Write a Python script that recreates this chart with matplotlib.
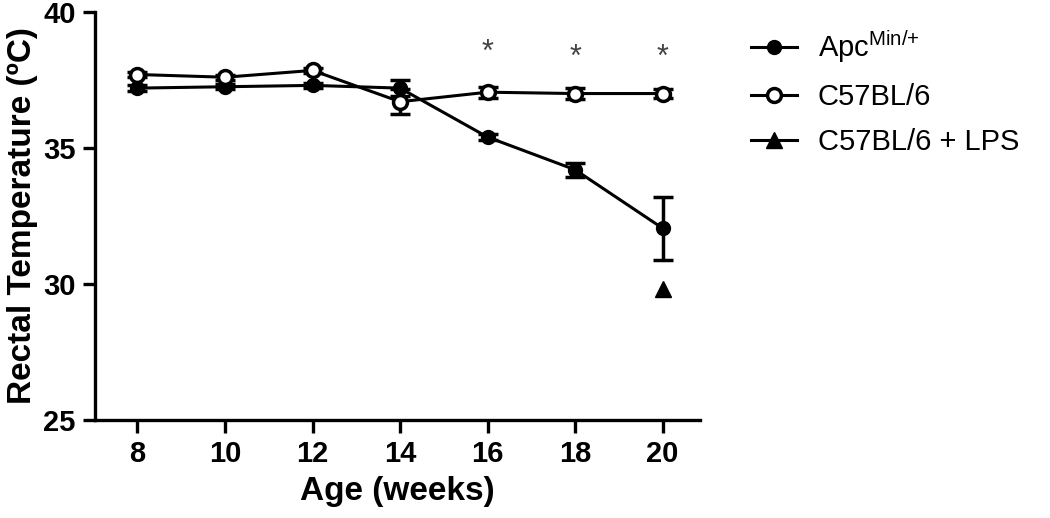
import matplotlib
matplotlib.use("Agg")
import matplotlib.pyplot as plt
from matplotlib.lines import Line2D

plt.rcParams['font.family'] = ['Liberation Sans', 'DejaVu Sans']
plt.rcParams['mathtext.fontset'] = 'custom'
plt.rcParams['mathtext.rm'] = 'Liberation Sans'

# data
weeks = [8, 10, 12, 14, 16, 18, 20]
apc_mean = [37.2, 37.25, 37.3, 37.2, 35.4, 34.2, 32.05]
apc_err = [0.1, 0.1, 0.1, 0.3, 0.1, 0.25, 1.15]
c57_mean = [37.7, 37.6, 37.85, 36.7, 37.05, 37.0, 37.0]
c57_err = [0.1, 0.1, 0.1, 0.45, 0.2, 0.2, 0.15]
lps_week = [20]
lps_mean = [29.8]
star_weeks = [16, 18, 20]
star_y = [38.5, 38.3, 38.3]

fig = plt.figure(figsize=(10.5, 5.18), dpi=100)
ax = fig.add_axes([0.0905, 0.189, 0.576, 0.788])

ax.errorbar(weeks, apc_mean, yerr=apc_err, color='black', lw=2.2,
            marker='o', ms=10, mfc='black', mec='black', capsize=7,
            capthick=2.5, elinewidth=2.5, zorder=3)
ax.errorbar(weeks, c57_mean, yerr=c57_err, color='black', lw=2.2,
            marker='o', ms=10, mfc='white', mec='black', mew=2.5, capsize=7,
            capthick=2.5, elinewidth=2.5, zorder=4)
ax.plot(lps_week, lps_mean, color='black', marker='^', ms=12, ls='none')

for x, y in zip(star_weeks, star_y):
    ax.text(x, y, '*', ha='center', va='center', fontsize=22, color='#444444')

ax.set_xlim(7.03, 20.85)
ax.set_ylim(25, 40)
ax.set_xticks(weeks)
ax.set_yticks([25, 30, 35, 40])

for s in ['top', 'right']:
    ax.spines[s].set_visible(False)
for s in ['left', 'bottom']:
    ax.spines[s].set_linewidth(2.4)
ax.tick_params(width=2.4, length=9, labelsize=21, pad=5)
for lab in ax.get_xticklabels() + ax.get_yticklabels():
    lab.set_fontweight('bold')

ax.set_xlabel('Age (weeks)', fontsize=24, fontweight='bold', labelpad=6)
ax.set_ylabel('Rectal Temperature (\u00baC)', fontsize=24, fontweight='bold',
              labelpad=4)

handles = [
    Line2D([], [], color='black', lw=2.2, marker='o', ms=10, mfc='black'),
    Line2D([], [], color='black', lw=2.2, marker='o', ms=10, mfc='white', mew=2.5),
    Line2D([], [], color='black', lw=2.2, marker='^', ms=12, mfc='black'),
]
labels = [r'Apc$^{\mathrm{Min/{+}}}$', 'C57BL/6', 'C57BL/6 + LPS']
fig.legend(handles, labels, loc='upper left', bbox_to_anchor=(0.69, 0.995),
           frameon=False, fontsize=21, handlelength=1.6,
           labelspacing=0.6, handletextpad=0.7)

fig.savefig('out.png', dpi=100)
